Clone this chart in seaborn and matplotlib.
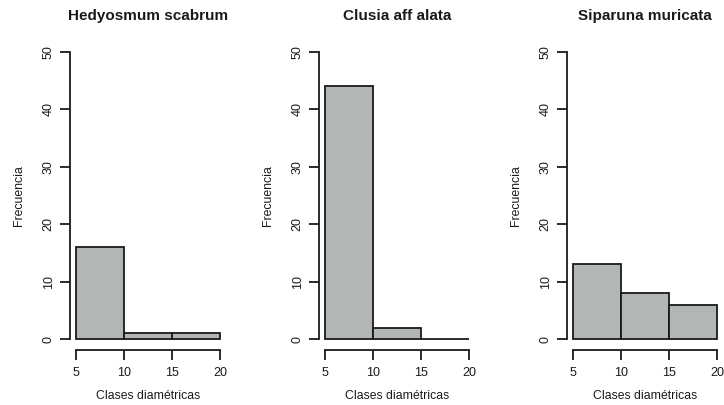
import matplotlib
matplotlib.use("Agg")
import matplotlib.pyplot as plt
import seaborn as sns
import pandas as pd

# diameter classes (cm) and counts per species
bin_edges = [5, 10, 15, 20]
species = ["Hedyosmum scabrum", "Clusia aff alata", "Siparuna muricata"]
hedyosmum = [16, 1, 1]
clusia = [44, 2, 0]
siparuna = [13, 8, 6]
counts = [hedyosmum, clusia, siparuna]
y_ticks = [0, 10, 20, 30, 40, 50]
x_ticks = [5, 10, 15, 20]

sns.set_style("white")
plt.rcParams["font.family"] = ["Liberation Sans", "DejaVu Sans"]

fig = plt.figure(figsize=(7.24, 4.05), dpi=100)
lefts = [70 / 724, 319 / 724, 567 / 724]
ink = "#1a1a1a"

mids = [(a + b) / 2 for a, b in zip(bin_edges[:-1], bin_edges[1:])]

for left, name, vals in zip(lefts, species, counts):
    ax = fig.add_axes([left, 0.1346, 0.2152, 0.7654])
    df = pd.DataFrame({"diam": mids, "n": vals})
    sns.histplot(data=df, x="diam", weights="n", bins=bin_edges, ax=ax,
                 color="#b3b6b6", alpha=1, edgecolor=ink, linewidth=1.3)
    ax.set_xlim(4.4, 20.6)
    ax.set_ylim(-2, 52)
    ax.spines["top"].set_visible(False)
    ax.spines["right"].set_visible(False)
    ax.spines["left"].set_bounds(0, 50)
    ax.spines["bottom"].set_bounds(5, 20)
    for s in ["left", "bottom"]:
        ax.spines[s].set_color(ink)
        ax.spines[s].set_linewidth(1.3)
    ax.set_xticks(x_ticks)
    ax.set_yticks(y_ticks)
    ax.tick_params(axis="both", direction="out", length=7, width=1.3,
                   color=ink, labelcolor=ink, labelsize=9, left=True, bottom=True)
    ax.tick_params(axis="x", pad=5)
    ax.tick_params(axis="y", pad=4)
    for lab in ax.get_yticklabels():
        lab.set_rotation(90)
        lab.set_va("center")
    ax.set_xlabel("Clases diamétricas", fontsize=8.8, color=ink, labelpad=8)
    ax.set_ylabel("Frecuencia", fontsize=8.8, color=ink, labelpad=13)
    ax.set_title(name, fontsize=11, fontweight="bold", color=ink, pad=15)

fig.savefig("out.png", dpi=100)
